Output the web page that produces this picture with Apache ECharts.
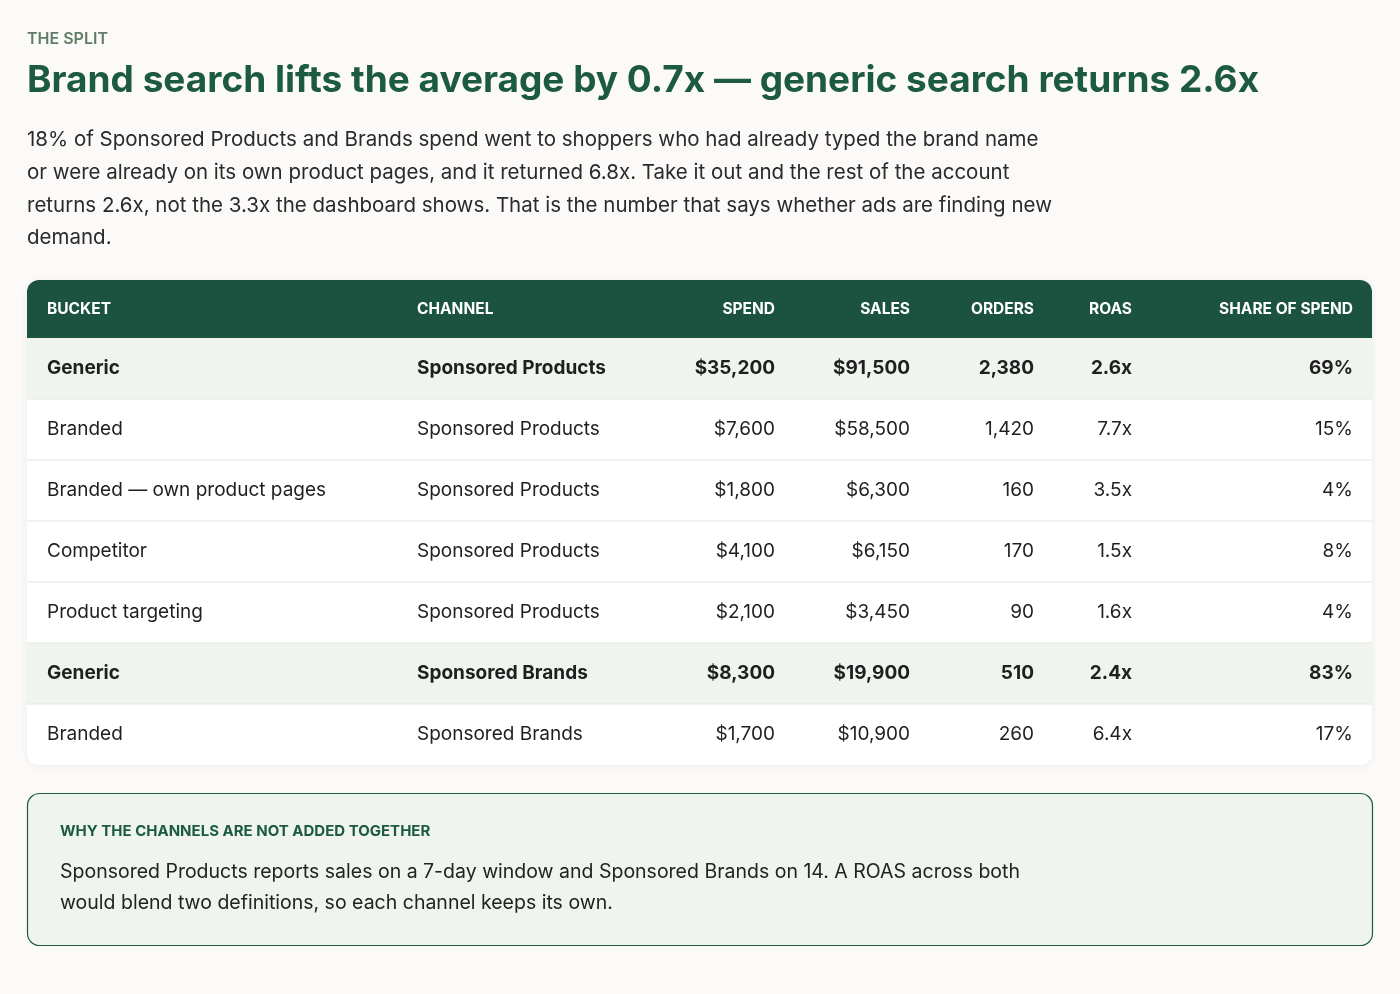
<!DOCTYPE html>
<html><head><meta charset="utf-8">
<script src="https://cdn.jsdelivr.net/npm/echarts@6/dist/echarts.min.js"></script>
<style>html,body{margin:0;padding:0;background:#fcfaf8}#c{width:1400px;height:994px}</style>
</head><body><div id="c"></div>
<script>
const kicker = "THE SPLIT";
const title = "Brand search lifts the average by 0.7x — generic search returns 2.6x";
const paragraph = [
 "18% of Sponsored Products and Brands spend went to shoppers who had already typed the brand name",
 "or were already on its own product pages, and it returned 6.8x. Take it out and the rest of the account",
 "returns 2.6x, not the 3.3x the dashboard shows. That is the number that says whether ads are finding new",
 "demand."];
const headers = ["BUCKET","CHANNEL","SPEND","SALES","ORDERS","ROAS","SHARE OF SPEND"];
const buckets = ["Generic","Branded","Branded — own product pages","Competitor","Product targeting","Generic","Branded"];
const channels = ["Sponsored Products","Sponsored Products","Sponsored Products","Sponsored Products","Sponsored Products","Sponsored Brands","Sponsored Brands"];
const spend = [35200,7600,1800,4100,2100,8300,1700];
const sales = [91500,58500,6300,6150,3450,19900,10900];
const orders = [2380,1420,160,170,90,510,260];
const roas = [2.6,7.7,3.5,1.5,1.6,2.4,6.4];
const share = [69,15,4,8,4,83,17];
const highlight = [true,false,false,false,false,true,false];
const noteTitle = "WHY THE CHANNELS ARE NOT ADDED TOGETHER";
const noteText = ["Sponsored Products reports sales on a 7-day window and Sponsored Brands on 14. A ROAS across both",
 "would blend two definitions, so each channel keeps its own."];

(function(){
const F = "Inter, 'Noto Sans', sans-serif";
const G = "#1d5a43";
const money = v => "$" + v.toLocaleString("en-US");
const els = [];
const T = (x,y,text,o) => els.push({type:'text',x,y,style:Object.assign({text,fontFamily:F,fill:'#222',fontSize:19,verticalAlign:'middle'},o)});
T(27,39,kicker,{fontSize:16,fontWeight:600,fill:'#5f7d66'});
T(27,81,title,{fontSize:37,fontWeight:700,fill:G});
paragraph.forEach((l,i)=>T(27,140+i*32.7,l,{fontSize:20.5,fill:'#2a2a2a'}));
const L=27,R=1372,tTop=280,hh=58,rh=61,n=buckets.length;
els.push({type:'rect',shape:{x:L,y:tTop,width:R-L,height:hh+rh*n,r:12},style:{fill:'#fff',shadowBlur:8,shadowColor:'rgba(0,0,0,0.06)',shadowOffsetY:1}});
els.push({type:'rect',shape:{x:L,y:tTop,width:R-L,height:hh,r:[12,12,0,0]},style:{fill:'#1b5340'}});
const cols=[{x:47,a:'left'},{x:417,a:'left'},{x:775,a:'right'},{x:910,a:'right'},{x:1034,a:'right'},{x:1132,a:'right'},{x:1353,a:'right'}];
headers.forEach((h,i)=>T(cols[i].x,tTop+hh/2,h,{fontSize:15.5,fontWeight:700,fill:'#fff',align:cols[i].a}));
for(let r=0;r<n;r++){
  const y=tTop+hh+r*rh;
  if(highlight[r]) els.push({type:'rect',shape:{x:L,y,width:R-L,height:rh,r:r==n-1?[0,0,12,12]:0},style:{fill:'#eff4ef'}});
  if(r>0) els.push({type:'line',shape:{x1:L,y1:y,x2:R,y2:y},style:{stroke:'#e3e6e3',lineWidth:1}});
  const vals=[buckets[r],channels[r],money(spend[r]),money(sales[r]),orders[r].toLocaleString("en-US"),roas[r].toFixed(1)+"x",share[r]+"%"];
  vals.forEach((v,i)=>T(cols[i].x,y+rh/2,v,{align:cols[i].a,fontWeight:highlight[r]?700:400,fill:'#1f1f1f'}));
}
els.push({type:'rect',shape:{x:27.5,y:793.5,width:1345,height:152,r:12},style:{fill:'#eff4ef',stroke:G,lineWidth:1.2}});
T(60,831,noteTitle,{fontSize:15,fontWeight:700,fill:G});
noteText.forEach((l,i)=>T(60,872+i*31,l,{fontSize:19.5,fill:'#222'}));
const chart=echarts.init(document.getElementById('c'));
chart.setOption({backgroundColor:'#fcfaf8',graphic:{elements:els}});
})();
</script></body></html>
